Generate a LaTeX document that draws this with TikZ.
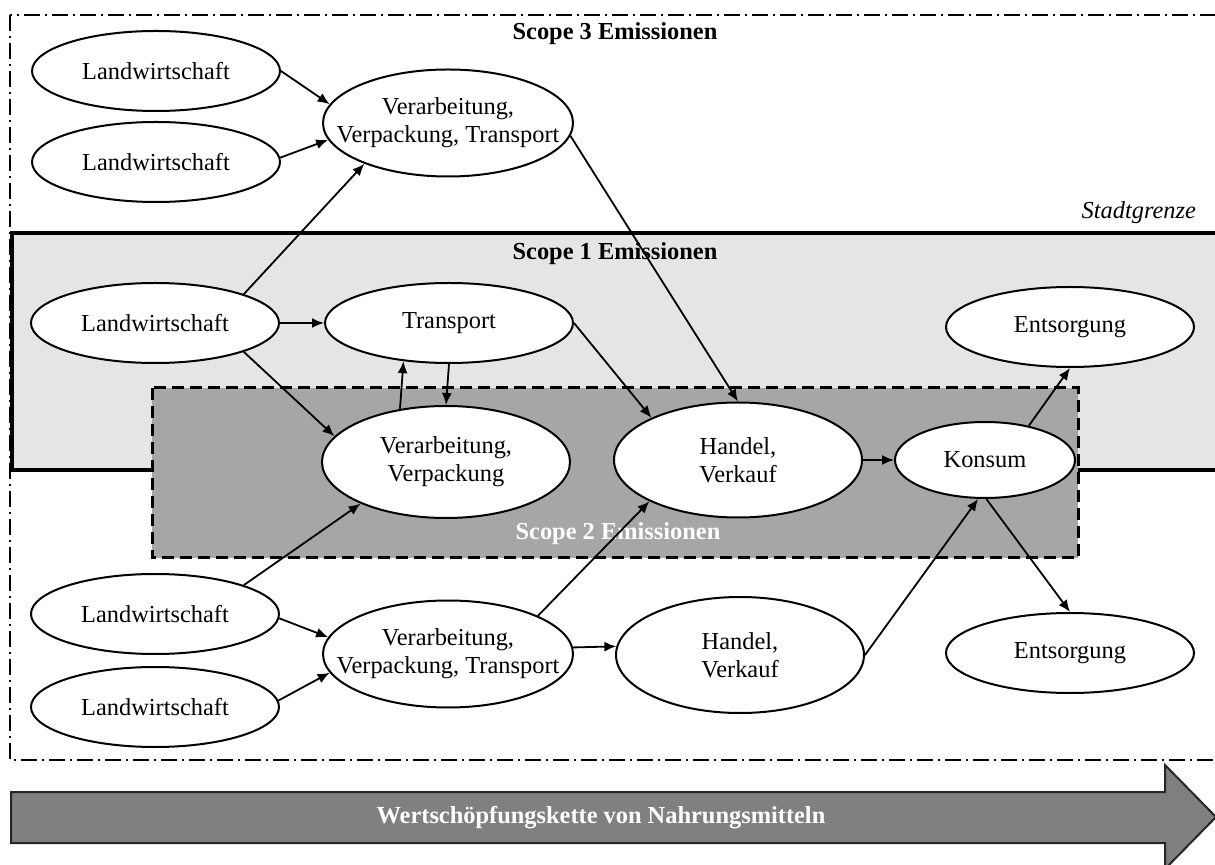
\documentclass[tikz,border=0pt]{standalone}
\usepackage{fontspec}
\setmainfont{Liberation Serif}
\usetikzlibrary{positioning,shapes.geometric,arrows.meta}

\definecolor{scopeone}{gray}{0.9}
\definecolor{scopetwo}{gray}{0.65}
\definecolor{chain}{gray}{0.5}

\begin{document}
\begin{tikzpicture}[
  x=0.5pt, y=-0.5pt,
  font=\fontsize{12.2}{14}\selectfont,
  blob/.style={ellipse, draw, fill=white, line width=1pt, inner sep=0pt, align=center, minimum width=124pt, minimum height=40pt},
  wide/.style={blob, inner xsep=-25pt, minimum width=125pt, minimum height=53.5pt},
  tall/.style={blob, minimum height=56pt},
  flow/.style={-{Latex[length=6pt,width=5pt]}, line width=0.9pt},
  scopelab/.style={font=\fontsize{12.2}{14}\selectfont\bfseries},
  node distance=22pt
]
  \clip (0,0) rectangle (1215,865);

  % areas
  \draw[line width=0.75pt, dash pattern=on 8pt off 2.5pt on 1pt off 2.5pt] (10,15) rectangle (1240,760);
  \draw[line width=1.8pt, fill=scopeone] (12,233) rectangle (1240,470);
  \draw[line width=1.5pt, dash pattern=on 6pt off 3pt, fill=scopetwo] (152,388) rectangle (1078,558);

  \node[scopelab] (s3) at (615,34) {Scope 3 Emissionen};
  \node[scopelab] (s1) at (615,254) {Scope 1 Emissionen};
  \node[scopelab, text=white] (s2) at (618,534) {Scope 2 Emissionen};
  \node[font=\fontsize{12.2}{14}\selectfont\itshape, anchor=east] (grenze) at (1203,213) {Stadtgrenze};

  % value chain arrow
  \draw[fill=chain, draw=black!85, line width=1pt] (11,792) -- (1165,792) -- (1165,765) -- (1216,817)
    -- (1165,869) -- (1165,843) -- (11,843) -- cycle;
  \node[scopelab, text=white] (kette) at (601,818) {Wertschöpfungskette von Nahrungsmitteln};

  % nodes
  \node[blob] (LWa) at (156,71) {Landwirtschaft};
  \node[blob] (LWb) at (156,162) {Landwirtschaft};
  \node[wide] (VVTa) at (448,123) {Verarbeitung,\\Verpackung, Transport};
  \node[blob] (LWm) at (155,323) {Landwirtschaft};
  \node[blob, right=of LWm] (Tr) {Transport};
  \node[tall] (VVP) at (446,462) {Verarbeitung,\\Verpackung};
  \node[blob, minimum height=57.5pt] (Ha) at (738,460) {Handel,\\Verkauf};
  \node[blob, minimum width=90pt, minimum height=38pt, right=15.5pt of Ha] (Ko) {Konsum};
  \node[blob] (EnA) at (1070,327) {Entsorgung};
  \node[blob] (LWc) at (155,614) {Landwirtschaft};
  \node[blob] (LWd) at (155,707) {Landwirtschaft};
  \node[wide] (VVTb) at (448,654) {Verarbeitung,\\Verpackung, Transport};
  \node[blob, minimum height=58pt] (Hb) at (740,655) {Handel,\\Verkauf};
  \node[blob] (EnB) at (1070,653) {Entsorgung};

  % connectors
  \draw[flow] (LWa.0) -- (VVTa.171);
  \draw[flow] (LWb.2) -- (VVTa.188);
  \draw[flow] (LWm.18) -- (VVTa.206);
  \draw[flow] (LWm) -- (Tr);
  \draw[flow] (LWm.342) -- (VVP.167);
  \draw[flow] (VVP.131) -- (Tr.220);
  \draw[flow] (Tr.south) -- (VVP.north);
  \draw[flow] (Tr.east) -- (Ha.154);
  \draw[flow] (VVTa.354) -- (Ha.north);
  \draw[flow] (LWc.18) -- (VVP.206);
  \draw[flow] (LWc.358) -- (VVTb.172);
  \draw[flow] (LWd.3) -- (VVTb.189);
  \draw[flow] (VVTb.23) -- (Ha.205);
  \draw[flow] (VVTb.3) -- (Hb.176);
  \draw[flow] (Ha) -- (Ko);
  \draw[flow] (Hb.east) -- (Ko.260);
  \draw[flow] (Ko.272) -- (EnB.north);
  \draw[flow] (Ko.38) -- (EnA.south);
\end{tikzpicture}
\end{document}
